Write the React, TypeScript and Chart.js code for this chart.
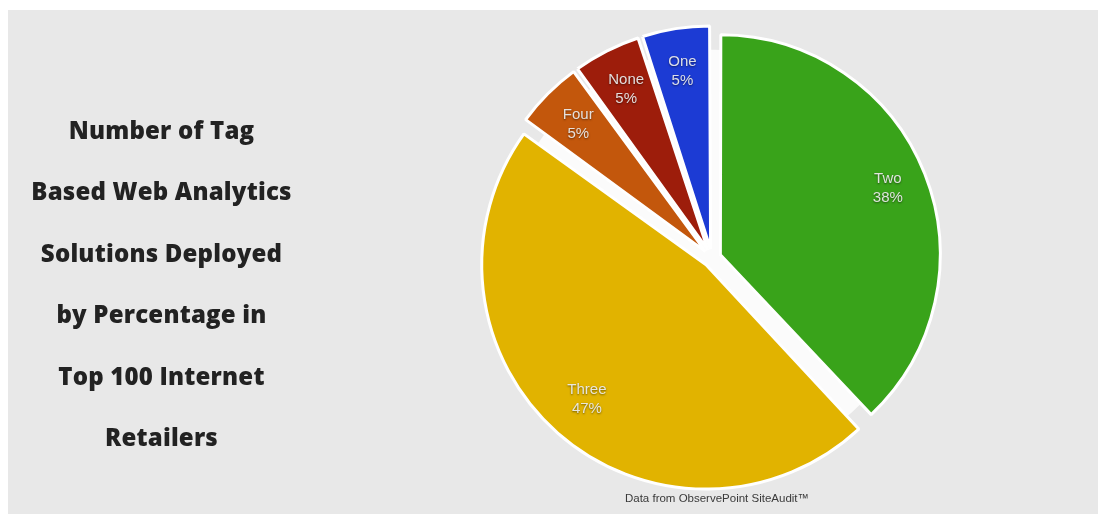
import React, { useEffect, useRef } from "react";
import { Chart, registerables } from "chart.js";

Chart.register(...registerables);

// ---- data ----
const categories: string[] = ["Two", "Three", "Four", "None", "One"];
const percentages: number[] = [38, 47, 5, 5, 5];
const sliceColors: string[] = ["#39a31a", "#e1b300", "#c3570c", "#9d1d0b", "#1c3bd4"];
const titleLines: string[] = [
  "Number of Tag",
  "Based Web Analytics",
  "Solutions Deployed",
  "by Percentage in",
  "Top 100 Internet",
  "Retailers",
];
const sourceNote = "Data from ObservePoint SiteAudit\u2122";

const SLICE_OFFSET = 36; // chart.js applies offset / 4 as translation

const gapFill = {
  id: "gapFill",
  beforeDatasetsDraw(chart: any) {
    const meta = chart.getDatasetMeta(0);
    const arc = meta.data[0];
    if (!arc) return;
    const { x, y, outerRadius } = arc.getProps(["x", "y", "outerRadius"], true);
    const ctx = chart.ctx;
    ctx.save();
    ctx.beginPath();
    ctx.arc(x, y, outerRadius * 0.96, 0, Math.PI * 2);
    ctx.fillStyle = "#fbfbfb";
    ctx.fill();
    ctx.restore();
  },
};

const sliceLabels = {
  id: "sliceLabels",
  afterDatasetsDraw(chart: any) {
    const ctx = chart.ctx;
    const meta = chart.getDatasetMeta(0);
    const values = chart.data.datasets[0].data as number[];
    const labels = chart.data.labels as string[];
    meta.data.forEach((arc: any, i: number) => {
      const { x, y, startAngle, endAngle, outerRadius } = arc.getProps(
        ["x", "y", "startAngle", "endAngle", "outerRadius"],
        true
      );
      const mid = (startAngle + endAngle) / 2;
      const shift = (arc.options.offset || 0) / 4;
      const d = outerRadius * 0.83 + shift;
      const lx = x + Math.cos(mid) * d;
      const ly = y + Math.sin(mid) * d;
      ctx.save();
      ctx.font = "15px 'Liberation Sans', Arial, sans-serif";
      ctx.textAlign = "center";
      ctx.textBaseline = "middle";
      ctx.shadowColor = "rgba(0,0,0,0.55)";
      ctx.shadowBlur = 2;
      ctx.shadowOffsetX = 0;
      ctx.shadowOffsetY = 1;
      ctx.fillStyle = "rgba(238,238,238,0.92)";
      ctx.fillText(labels[i], lx, ly - 9.5);
      ctx.fillText(values[i] + "%", lx, ly + 9.5);
      ctx.restore();
    });
  },
};

export default function App() {
  const canvasRef = useRef<HTMLCanvasElement | null>(null);

  useEffect(() => {
    if (!canvasRef.current) return;
    const chart = new Chart(canvasRef.current, {
      type: "pie",
      data: {
        labels: categories,
        datasets: [
          {
            data: percentages,
            backgroundColor: sliceColors,
            borderColor: "#ffffff",
            borderWidth: 3,
            offset: SLICE_OFFSET,
          },
        ],
      },
      options: {
        responsive: false,
        animation: false,
        devicePixelRatio: 1,
        radius: 217,
        layout: { padding: { left: 400, right: 82, top: 0, bottom: 8 } },
        plugins: {
          legend: { display: false },
          tooltip: { enabled: false },
          title: { display: false },
        },
      },
      plugins: [gapFill, sliceLabels],
    });
    return () => chart.destroy();
  }, []);

  return (
    <div
      style={{
        position: "absolute",
        left: 8,
        top: 10,
        width: 1090,
        height: 504,
        background: "#e8e8e8",
        overflow: "hidden",
      }}
    >
      <canvas
        ref={canvasRef}
        width={1090}
        height={504}
        style={{ position: "absolute", left: 0, top: 0, width: 1090, height: 504 }}
      />
      <div
        style={{
          position: "absolute",
          left: 0,
          top: 89,
          width: 307,
          textAlign: "center",
          fontFamily: "'Open Sans', Lato, sans-serif",
          fontWeight: 800,
          fontSize: 24,
          letterSpacing: "0.2px",
          lineHeight: "61.4px",
          color: "#222222",
          whiteSpace: "nowrap",
        }}
      >
        {titleLines.map((t, i) => (
          <div key={i}>{t}</div>
        ))}
      </div>
      <div
        style={{
          position: "absolute",
          left: 509,
          top: 481,
          width: 400,
          textAlign: "center",
          fontFamily: "'Liberation Sans', Arial, sans-serif",
          fontSize: 11.5,
          lineHeight: "14px",
          color: "#3a3a3a",
        }}
      >
        {sourceNote}
      </div>
    </div>
  );
}
